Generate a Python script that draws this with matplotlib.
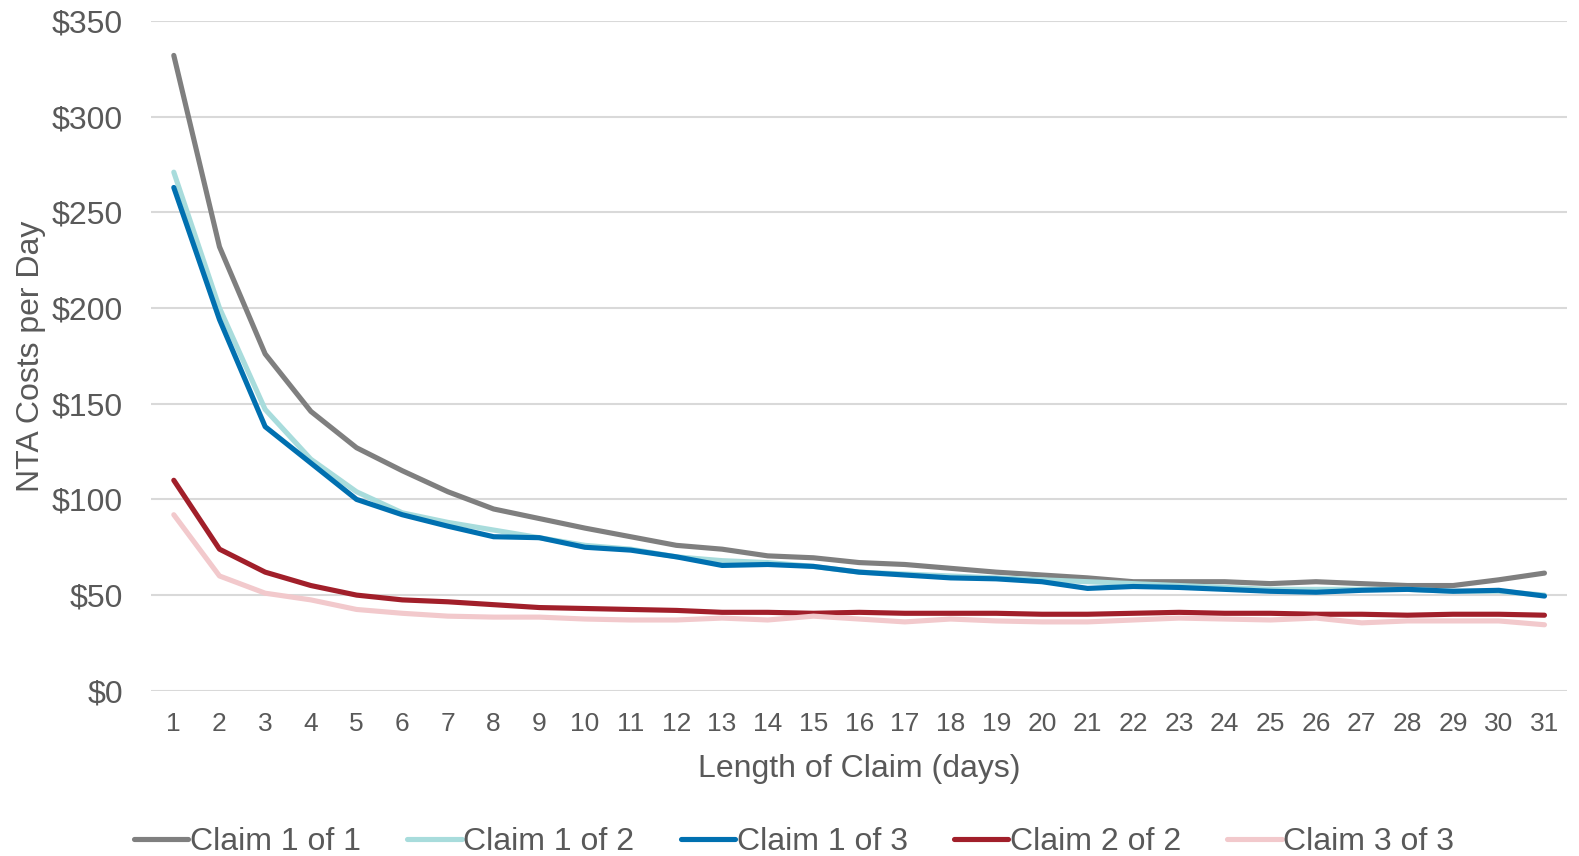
import numpy as np
import matplotlib.pyplot as plt
from matplotlib.ticker import FuncFormatter

plt.rcParams['font.family'] = ['Liberation Sans', 'DejaVu Sans']

days = list(range(1, 32))

claim_1_of_1 = [332, 232, 176, 146, 127, 115, 104, 95, 90, 85, 80.5, 76, 74, 70.5, 69.5,
                67, 66, 64, 62, 60.5, 59, 57, 57, 57, 56, 57, 56, 55, 55, 58, 61.5]
claim_1_of_2 = [271, 200, 147, 121, 104, 93, 88, 84, 80, 76, 74, 70, 68, 67, 65,
                62, 61, 60, 59, 58, 57, 56, 55, 54, 53, 53, 53, 53, 52, 52, 50]
claim_1_of_3 = [263, 194, 138, 119, 100, 92, 86, 80.5, 80, 75, 73.5, 70, 65.5, 66, 65,
                62, 60.5, 59, 58.5, 57, 53.5, 54.5, 54, 53, 52, 51.5, 52.5, 53, 52, 52.5, 49.5]
claim_2_of_2 = [110, 74, 62, 55, 50, 47.5, 46.5, 45, 43.5, 43, 42.5, 42, 41, 41, 40.5,
                41, 40.5, 40.5, 40.5, 40, 40, 40.5, 41, 40.5, 40.5, 40, 40, 39.5, 40, 40, 39.5]
claim_3_of_3 = [92, 60, 51, 47.5, 42.5, 40.5, 39, 38.5, 38.5, 37.5, 37, 37, 38, 37, 39,
                37.5, 36, 37.5, 36.5, 36, 36, 37, 38, 37.5, 37, 38, 35.5, 36.5, 36.5, 36.5, 34.5]

series = [
    ("Claim 1 of 1", claim_1_of_1, "#7f7f7f"),
    ("Claim 1 of 2", claim_1_of_2, "#a8dcdc"),
    ("Claim 1 of 3", claim_1_of_3, "#0070b0"),
    ("Claim 2 of 2", claim_2_of_2, "#a11f2a"),
    ("Claim 3 of 3", claim_3_of_3, "#f2c9cc"),
]

text_color = "#595959"

fig = plt.figure(figsize=(15.79, 8.56), dpi=100)
ax = fig.add_axes([0.0956, 0.193, 0.897, 0.7825])

for name, vals, col in series:
    ax.plot(days, vals, color=col, lw=3.7, label=name, solid_capstyle='round', zorder=3)

ax.set_xlim(0.5, 31.5)
ax.set_ylim(0, 350)
ax.set_yticks(np.arange(0, 351, 50))
ax.set_xticks(days)
ax.yaxis.set_major_formatter(FuncFormatter(lambda v, p: f"${v:.0f}"))
ax.grid(axis='y', color='#d9d9d9', lw=1.5, zorder=0)
ax.set_axisbelow(True)
for s in ax.spines.values():
    s.set_visible(False)
ax.tick_params(axis='both', length=0, colors=text_color)
ax.tick_params(axis='y', labelsize=23, pad=20)
ax.tick_params(axis='x', labelsize=19, pad=15)

ax.set_xlabel("Length of Claim (days)", fontsize=23, color=text_color, labelpad=13)
ax.set_ylabel("NTA Costs per Day", fontsize=23, color=text_color, labelpad=4)

leg = fig.legend(loc='lower center', bbox_to_anchor=(0.503, -0.035), ncol=5, frameon=False,
                 fontsize=23, handlelength=1.7, handletextpad=0.05, columnspacing=1.45)
for t in leg.get_texts():
    t.set_color(text_color)

fig.savefig("out.png", dpi=100)
